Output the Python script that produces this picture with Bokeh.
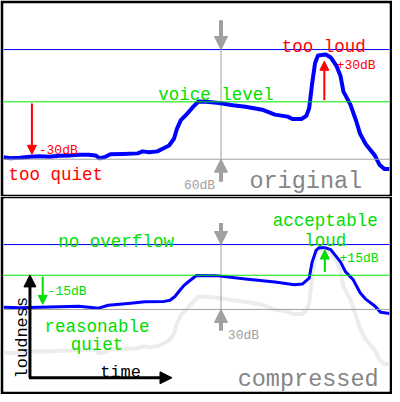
from bokeh.plotting import figure
from bokeh.models import Range1d, Span, Arrow, NormalHead, Label
from bokeh.layouts import column
from bokeh.embed import file_html
from bokeh.resources import INLINE

# ---- data (time in arbitrary units, loudness in dB above the original quiet floor) ----
time_original = [3, 10, 20, 30, 40, 50, 60, 70, 80, 90, 97, 101, 106, 112, 125, 140, 145, 152,
                 160, 166, 172, 177, 180, 184, 190, 197, 202, 210, 223, 237, 250, 267, 280, 293,
                 298, 307, 312, 315, 318, 321, 324, 332, 337, 343, 347, 350, 357, 363, 367, 373,
                 382, 387, 392, 397]
loud_original = [1.1, 0.5, 0.8, 1.3, 1.6, 1.3, 1.9, 2.1, 2.4, 2.4, 2.1, 0.5, 1.1, 2.7, 2.9, 3.2,
                 4.3, 3.8, 4.3, 5.9, 7.5, 11.2, 16.6, 21.4, 24.6, 28.9, 31.6, 31.4, 30.8, 29.5,
                 28.7, 27.1, 24.4, 23.3, 22.0, 22.0, 23.6, 27.9, 41.3, 52.5, 56.8, 57.3, 55.7,
                 50.9, 45.5, 37.0, 30.0, 20.9, 13.9, 8.0, 2.1, -3.2, -5.4, -5.4]

time_compressed = [3, 20, 40, 60, 80, 100, 110, 133, 147, 167, 173, 178, 182, 187, 193, 200, 220,
                   250, 280, 300, 308, 315, 318, 322, 325, 332, 337, 347, 352, 360, 367, 373, 382,
                   388, 397]
loud_compressed = [25.7, 25.4, 25.7, 26.0, 26.2, 25.2, 26.8, 27.9, 28.7, 28.9, 29.5, 31.6, 34.3,
                   37.5, 40.2, 43.1, 43.0, 41.2, 39.5, 38.0, 38.4, 41.6, 50.4, 56.8, 58.2, 58.2,
                   57.2, 50.5, 45.2, 40.7, 33.6, 30.0, 26.4, 22.9, 22.3]

# reference levels: overflow limit, voice level, quiet level
levels_original = [60.0, 31.4, 0.0]
levels_compressed = [60.0, 43.2, 24.5]

FONT = "Liberation Mono"
BLUE = "#0000ff"
GREEN = "#00dd00"
GREEN_LINE = "#00e400"
RED = "#ff0000"
GRAY = "#a0a0a0"
TITLE_GRAY = "#858585"
level_colors = [BLUE, GREEN_LINE, GRAY]


def make_fig(height, y_lo, y_hi, top, bottom):
    p = figure(width=392, height=height, x_range=Range1d(3, 397), y_range=Range1d(y_lo, y_hi),
               output_backend="svg", toolbar_location=None,
               x_axis_location=None, y_axis_location=None,
               min_border_left=3, min_border_right=3, min_border_top=top, min_border_bottom=bottom,
               border_fill_color="black", background_fill_color="white", outline_line_color=None)
    p.grid.visible = False
    return p


def label(p, x, y, text, color, size, align="left", angle=0.0):
    p.add_layout(Label(x=x, y=y, text=text, text_color=color, text_font=FONT,
                       text_font_size=size, text_align=align, text_baseline="alphabetic",
                       angle=angle))


def arrow(p, x0, y0, x1, y1, color, width, head):
    p.add_layout(Arrow(end=NormalHead(size=head, fill_color=color, line_color=color, line_width=1),
                       x_start=x0, y_start=y0, x_end=x1, y_end=y1,
                       line_color=color, line_width=width))


def levels(p, vals):
    for v, c in zip(vals, level_colors):
        p.add_layout(Span(location=v, dimension="width", line_color=c, line_width=1))


# ---------------- top: original ----------------
p1 = make_fig(196, -19.3, 85.2, 3, 2)
levels(p1, levels_original)
p1.segment(x0=[225], y0=[levels_original[0]], x1=[225], y1=[levels_original[2]],
           line_color=GRAY, line_width=1)
p1.line(time_original, loud_original, line_color=BLUE, line_width=4, line_join="round")

arrow(p1, 225, 76.1, 225, levels_original[0], GRAY, 4, 13)
arrow(p1, 225, -12.3, 225, levels_original[2], GRAY, 4, 13)
arrow(p1, 32, 30.5, 32, 2.7, RED, 2, 9)
arrow(p1, 330.5, 32.3, 330.5, 53.6, RED, 2, 9)

label(p1, 287, 61.6, "too loud", RED, "17.5px")
label(p1, 343, 51.2, "+30dB", RED, "13px")
label(p1, 161, 35.1, "voice level", GREEN, "17.5px")
label(p1, 39, 4.8, "-30dB", RED, "13px")
label(p1, 8, -8.8, "too quiet", RED, "17.5px")
label(p1, 219, -14.2, "60dB", GRAY, "13px", align="right")
label(p1, 254, -12.3, "original", TITLE_GRAY, "23.5px")

# ---------------- bottom: compressed ----------------
p2 = make_fig(198, -20.4, 85.2, 2, 3)
p2.line(time_original, loud_original, line_color="#ececec", line_width=4, line_join="round")
levels(p2, levels_compressed)
p2.segment(x0=[225], y0=[levels_compressed[0]], x1=[225], y1=[levels_compressed[2]],
           line_color=GRAY, line_width=1)
p2.line(time_compressed, loud_compressed, line_color=BLUE, line_width=3, line_join="round")

arrow(p2, 225, 71.8, 225, levels_compressed[0], GRAY, 4, 13)
arrow(p2, 225, 12.9, 225, levels_compressed[2], GRAY, 4, 13)
arrow(p2, 43, 42.5, 43, 27.3, GREEN, 2, 9)
arrow(p2, 331, 45.0, 331, 57.0, GREEN, 2, 9)
# loudness / time axes sketch
arrow(p2, 30, -12.9, 30, 43.4, "black", 3, 12)
arrow(p2, 29, -12.9, 175, -12.9, "black", 3, 12)

label(p2, 59, 61.6, "no overflow", GREEN, "17.5px")
label(p2, 331.5, 73.1, "acceptable", GREEN, "17.5px", align="center")
label(p2, 331.5, 62.1, "loud", GREEN, "17.5px", align="center")
label(p2, 346, 52.5, "+15dB", GREEN, "13px")
label(p2, 48, 34.3, "-15dB", GREEN, "13px")
label(p2, 98.5, 15.0, "reasonable", GREEN, "17.5px", align="center")
label(p2, 98.5, 4.8, "quiet", GREEN, "17.5px", align="center")
label(p2, 232, 10.2, "30dB", GRAY, "13px")
label(p2, 242, -14.0, "compressed", TITLE_GRAY, "23.5px")
label(p2, 122.5, -9.9, "time", "black", "17px", align="center")
label(p2, 22, 9.1, "loudness", "black", "17px", align="center", angle=1.5708)

layout = column(p1, p2, spacing=0)

open("out.html", "w").write(file_html(layout, INLINE))
